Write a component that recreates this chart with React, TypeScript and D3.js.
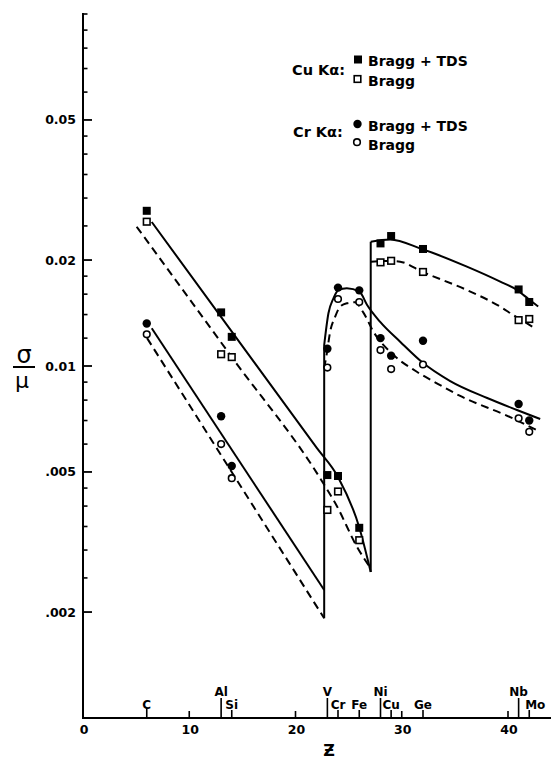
import * as d3 from "d3";

// elements marked along the Z axis
const elements = ["C", "Al", "Si", "V", "Cr", "Fe", "Ni", "Cu", "Ge", "Nb", "Mo"];
const atomicNumbers = [6, 13, 14, 23, 24, 26, 28, 29, 32, 41, 42];
const raisedLabels = ["Al", "V", "Ni", "Nb"];

// sigma/mu
const cuBraggTDS = [0.0276, 0.0142, 0.0121, 0.0049, 0.00487, 0.00347, 0.0223, 0.0234, 0.0215, 0.0165, 0.0152];
const cuBragg = [0.0257, 0.0108, 0.0106, 0.0039, 0.0044, 0.0032, 0.0197, 0.0199, 0.0185, 0.0135, 0.0136];
const crBraggTDS = [0.0132, 0.0072, 0.0052, 0.0112, 0.0167, 0.0164, 0.012, 0.0107, 0.0118, 0.0078, 0.007];
const crBragg = [0.0123, 0.006, 0.0048, 0.0099, 0.0155, 0.0152, 0.0111, 0.0098, 0.0101, 0.0071, 0.0065];

// fitted curves [Z, sigma/mu]
const cuTdsLow = [[6.47, 0.02565], [22, 0.00585], [24.0, 0.00484], [25.99, 0.00349], [27.08, 0.0026]];
const cuTdsHigh = [[27.08, 0.02255], [28.9, 0.02287], [31.9, 0.02149], [36.13, 0.01915], [39.27, 0.01736], [40.84, 0.01644], [41.93, 0.0155], [42.84, 0.01476]];
const cuBraggLow = [[5.05, 0.02487], [14, 0.0106], [22.6, 0.00465], [23.89, 0.004], [25.77, 0.00307], [27.08, 0.00266]];
const cuBraggHigh = [[27.08, 0.01978], [28.8, 0.01987], [29.85, 0.01978], [31.9, 0.01853], [36.13, 0.01644], [39.27, 0.01474], [40.49, 0.01396], [42.56, 0.0128]];
const crTdsLow = [[6.47, 0.0128], [22.7, 0.00231]];
const crTdsHigh = [[22.7, 0.01147], [23.1, 0.01412], [23.57, 0.01557], [24.04, 0.01644], [24.83, 0.01663], [26.02, 0.01626], [26.74, 0.0149], [27.97, 0.01334], [29.85, 0.01172], [31.9, 0.01026], [34.56, 0.00906], [38.04, 0.00811], [40.84, 0.0075], [43.03, 0.00707]];
const crBraggLow = [[6.03, 0.012], [22.7, 0.00192]];
const crBraggHigh = [[22.7, 0.00987], [22.95, 0.01087], [23.26, 0.01251], [23.73, 0.0138], [24.2, 0.01474], [24.83, 0.01507], [25.61, 0.01517], [26.39, 0.01418], [27.34, 0.01251], [29.22, 0.01075], [31.42, 0.00963], [33.3, 0.00893], [35.5, 0.00822], [40.2, 0.00716], [43.03, 0.0065]];
const crEdge = [[22.7, 0.00192], [22.7, 0.01147]];
const cuEdge = [[27.08, 0.0026], [27.08, 0.02255]];

// axis ticks
const xTicks = [0, 10, 20, 30, 40];
const yMajor = [0.05, 0.02, 0.01, 0.005, 0.002];
const yMajorLabels = ["0.05", "0.02", "0.01", ".005", ".002"];
const yMinor = [0.1, 0.09, 0.08, 0.07, 0.06, 0.045, 0.04, 0.035, 0.03, 0.025, 0.018, 0.016, 0.014, 0.012, 0.009, 0.008, 0.007, 0.006, 0.0045, 0.004, 0.0035, 0.003, 0.0025];

const W = 551;
const H = 761;
const font = "'DejaVu Sans', sans-serif";

export default function App() {
  const x = d3.scaleLinear().domain([0, 40]).range([83, 508]);
  const y = d3.scaleLog().domain([0.001, 0.1]).range([718, 14]);
  const x0 = x(0);
  const yBase = y(0.001);

  const curve = d3
    .line<number[]>()
    .x((d) => x(d[0]))
    .y((d) => y(d[1]))
    .curve(d3.curveMonotoneX);
  const straight = d3
    .line<number[]>()
    .x((d) => x(d[0]))
    .y((d) => y(d[1]));

  const solid = { fill: "none", stroke: "#000", strokeWidth: 2 };
  const dashed = { ...solid, strokeDasharray: "8,5" };

  return (
    <svg width={W} height={H} style={{ position: "absolute", left: 0, top: 0, background: "#fff" }}>
      {/* axes */}
      <line x1={x0} x2={x0} y1={13} y2={yBase + 1} stroke="#000" strokeWidth={2} />
      <line x1={x0 - 1} x2={W} y1={yBase} y2={yBase} stroke="#000" strokeWidth={2} />

      {yMinor.map((v) => (
        <line key={v} x1={x0} x2={x0 + 4.5} y1={y(v)} y2={y(v)} stroke="#000" strokeWidth={1.6} />
      ))}
      {yMajor.map((v, i) => (
        <g key={v}>
          <line x1={x0} x2={x0 + 9} y1={y(v)} y2={y(v)} stroke="#000" strokeWidth={1.8} />
          <text x={76} y={y(v) + 4.5} textAnchor="end" fontFamily={font} fontWeight="bold" fontSize={12.5}>
            {yMajorLabels[i]}
          </text>
        </g>
      ))}

      {xTicks.map((t) => (
        <g key={t}>
          {t > 0 && <line x1={x(t)} x2={x(t)} y1={yBase} y2={yBase - 7} stroke="#000" strokeWidth={1.6} />}
          <text x={x(t) + 1} y={734} textAnchor="middle" fontFamily={font} fontWeight="bold" fontSize={12.5}>
            {t}
          </text>
        </g>
      ))}

      {elements.map((name, i) => {
        const raised = raisedLabels.includes(name);
        const len = raised ? 20 : name === "C" ? 10 : 8;
        const dx = name === "Mo" ? 6 : 0;
        return (
          <g key={name}>
            <line x1={x(atomicNumbers[i])} x2={x(atomicNumbers[i])} y1={yBase} y2={yBase - len} stroke="#000" strokeWidth={1.6} />
            <text
              x={x(atomicNumbers[i]) + dx}
              y={raised ? 696 : 708.5}
              textAnchor="middle"
              fontFamily={font}
              fontWeight="bold"
              fontSize={12}
            >
              {name}
            </text>
          </g>
        );
      })}

      {/* axis titles */}
      <text x={329} y={756} textAnchor="middle" fontFamily={font} fontWeight="bold" fontSize={16}>
        Ƶ
      </text>
      <text x={24} y={363} textAnchor="middle" fontFamily={font} fontSize={24}>
        σ
      </text>
      <line x1={13} x2={35} y1={367} y2={367} stroke="#000" strokeWidth={2} />
      <text x={22} y={388} textAnchor="middle" fontFamily={font} fontSize={22}>
        μ
      </text>

      {/* curves */}
      <path d={straight(crEdge) ?? ""} {...solid} />
      <path d={straight(cuEdge) ?? ""} {...solid} />
      <path d={curve(cuTdsLow) ?? ""} {...solid} />
      <path d={curve(cuTdsHigh) ?? ""} {...solid} />
      <path d={curve(cuBraggLow) ?? ""} {...dashed} />
      <path d={curve(cuBraggHigh) ?? ""} {...dashed} />
      <path d={straight(crTdsLow) ?? ""} {...solid} />
      <path d={curve(crTdsHigh) ?? ""} {...solid} />
      <path d={straight(crBraggLow) ?? ""} {...dashed} />
      <path d={curve(crBraggHigh) ?? ""} {...dashed} />

      {/* points */}
      {atomicNumbers.map((z, i) => (
        <g key={z}>
          <rect x={x(z) - 4} y={y(cuBraggTDS[i]) - 4} width={8} height={8} fill="#000" />
          <rect x={x(z) - 3.3} y={y(cuBragg[i]) - 3.3} width={6.6} height={6.6} fill="#fff" stroke="#000" strokeWidth={1.6} />
          <circle cx={x(z)} cy={y(crBraggTDS[i])} r={4.2} fill="#000" />
          <circle cx={x(z)} cy={y(crBragg[i])} r={3.3} fill="#fff" stroke="#000" strokeWidth={1.6} />
        </g>
      ))}

      {/* legend */}
      <g fontFamily={font} fontWeight="bold">
        <text x={292} y={75} fontSize={14.5}>Cu Kα:</text>
        <rect x={354} y={55.5} width={8} height={8} fill="#000" />
        <text x={368} y={66} fontSize={14}>Bragg + TDS</text>
        <rect x={354.2} y={75.7} width={6.6} height={6.6} fill="#fff" stroke="#000" strokeWidth={1.6} />
        <text x={368} y={86} fontSize={14}>Bragg</text>

        <text x={293} y={136.5} fontSize={14.5}>Cr Kα:</text>
        <circle cx={357.5} cy={124} r={4.2} fill="#000" />
        <text x={368} y={130.5} fontSize={14}>Bragg + TDS</text>
        <circle cx={357} cy={142.2} r={3.3} fill="#fff" stroke="#000" strokeWidth={1.6} />
        <text x={368} y={149.5} fontSize={14}>Bragg</text>
      </g>
    </svg>
  );
}
